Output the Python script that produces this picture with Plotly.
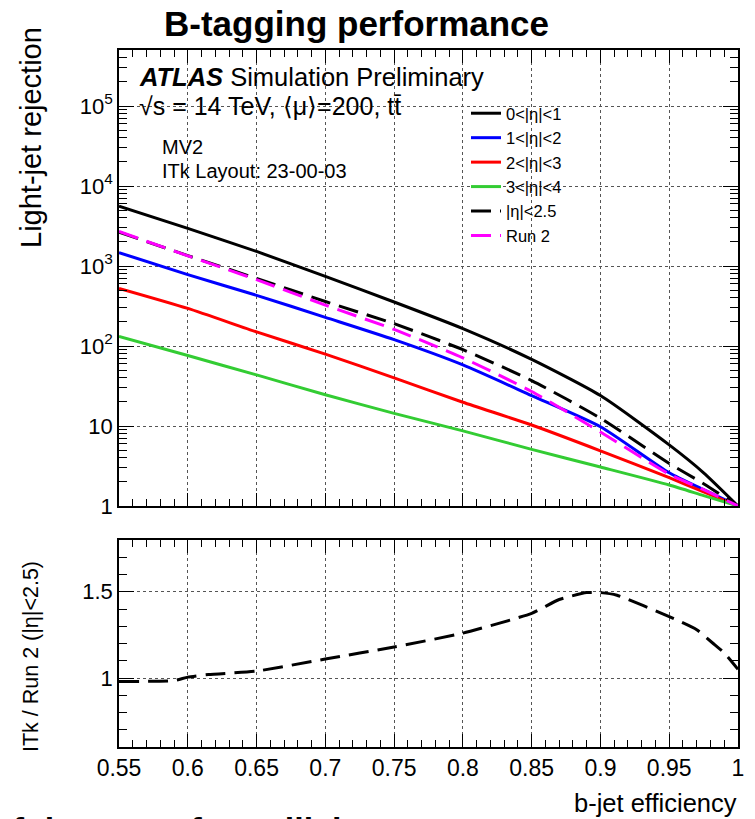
import plotly.graph_objects as go

# ---------------- data ----------------
eff = [0.55, 0.60, 0.65, 0.70, 0.75, 0.80, 0.85, 0.90, 0.95, 0.975, 1.00]
rej_eta01 = [5600, 2950, 1520, 740, 355, 165, 68, 24, 5.8, 2.6, 1]
rej_eta12 = [1470, 780, 430, 228, 120, 58, 24, 9.8, 2.6, 1.6, 1]
rej_eta23 = [525, 295, 150, 79, 40, 19.8, 10.3, 4.9, 2.26, 1.5, 1]
rej_eta34 = [132, 76, 43.5, 24.6, 14.4, 8.7, 5.1, 3.07, 1.83, 1.35, 1]
rej_itk25 = [2650, 1350, 700, 360, 190, 90, 37, 12.5, 3.4, 1.9, 1]
rej_run2 = [2700, 1340, 675, 325, 161, 71, 27, 8.4, 2.5, 1.6, 1]

ratio_eff = [0.55, 0.59, 0.60, 0.615, 0.65, 0.70, 0.75, 0.80, 0.85, 0.87,
             0.89, 0.90, 0.912, 0.95, 0.97, 0.982, 0.99, 1.00]
ratio_val = [0.98, 0.985, 1.005, 1.02, 1.04, 1.11, 1.18, 1.26, 1.375, 1.455,
             1.495, 1.495, 1.48, 1.356, 1.28, 1.20, 1.145, 1.05]

series_names = ["0<|η|<1", "1<|η|<2", "2<|η|<3", "3<|η|<4", "|η|<2.5", "Run 2"]
series_vals = [rej_eta01, rej_eta12, rej_eta23, rej_eta34, rej_itk25, rej_run2]
series_cols = ["#000000", "#0000ff", "#ff0000", "#33cc33", "#000000", "#ff00ff"]
series_dash = ["solid", "solid", "solid", "solid", "20px,9px", "20px,9px"]

x_ticks = [0.55, 0.6, 0.65, 0.7, 0.75, 0.8, 0.85, 0.9, 0.95, 1.0]
x_ticktext = ["0.55", "0.6", "0.65", "0.7", "0.75", "0.8", "0.85", "0.9", "0.95", "1"]
y_ticks = [1, 10, 100, 1000, 10000, 100000]
y_ticktext = ["1", "10", "10<sup>2</sup>", "10<sup>3</sup>", "10<sup>4</sup>", "10<sup>5</sup>"]
y_minor = [m * 10 ** k for k in range(0, 6) for m in range(2, 10)]
r_ticks = [1.0, 1.5]
r_ticktext = ["1", "1.5"]

FONT = "Liberation Sans, Arial, Helvetica, sans-serif"
W, H = 755, 819


def px(x):
    return x / W


def py(y):
    return 1 - y / H


fig = go.Figure()
for name, vals, col, dash in zip(series_names, series_vals, series_cols, series_dash):
    fig.add_trace(go.Scatter(
        x=eff, y=vals, mode="lines", name=name,
        line=dict(color=col, width=3, dash=dash, shape="spline", smoothing=0.6),
        xaxis="x", yaxis="y"))

fig.add_trace(go.Scatter(
    x=ratio_eff, y=ratio_val, mode="lines", showlegend=False,
    line=dict(color="#000000", width=3, dash="20px,9px", shape="spline", smoothing=0.5),
    xaxis="x2", yaxis="y2"))

xdom = [px(119), px(738)]
common_x = dict(
    range=[0.55, 1.0], tickmode="array", tickvals=x_ticks, ticktext=x_ticktext,
    ticks="inside", ticklen=13, tickwidth=1, tickcolor="black",
    minor=dict(ticks="inside", dtick=0.01, tick0=0.55, ticklen=7, tickcolor="black",
               showgrid=False),
    showline=True, linecolor="black", linewidth=1.5, mirror="allticks",
    showgrid=True, gridcolor="#555555", griddash="dot", gridwidth=1,
    zeroline=False, domain=xdom, fixedrange=True, automargin=False,
    tickfont=dict(family=FONT, size=23, color="black"),
)

fig.update_layout(
    width=W, height=H,
    margin=dict(l=0, r=0, t=0, b=0, pad=0),
    paper_bgcolor="white", plot_bgcolor="white",
    font=dict(family=FONT, color="black"),
    xaxis=dict(common_x, anchor="y", showticklabels=False),
    xaxis2=dict(common_x, anchor="y2", showticklabels=True),
    yaxis=dict(
        type="log", range=[0, 5.7], domain=[py(506), py(50)], anchor="x",
        tickmode="array", tickvals=y_ticks, ticktext=y_ticktext,
        ticks="inside", ticklen=15, tickcolor="black",
        minor=dict(ticks="inside", tickmode="array", tickvals=y_minor, ticklen=8,
                   tickcolor="black", showgrid=False),
        showline=True, linecolor="black", linewidth=1.5, mirror="allticks",
        showgrid=True, gridcolor="#555555", griddash="dot", gridwidth=1,
        zeroline=False, fixedrange=True, automargin=False,
        tickfont=dict(family=FONT, size=22, color="black"),
    ),
    yaxis2=dict(
        range=[0.6, 1.8], domain=[py(747), py(540)], anchor="x2",
        tickmode="array", tickvals=r_ticks, ticktext=r_ticktext,
        ticks="inside", ticklen=15, tickcolor="black",
        minor=dict(ticks="inside", dtick=0.1, tick0=0.6, ticklen=8,
                   tickcolor="black", showgrid=False),
        showline=True, linecolor="black", linewidth=1.5, mirror="allticks",
        showgrid=True, gridcolor="#555555", griddash="dot", gridwidth=1,
        zeroline=False, fixedrange=True, automargin=False,
        tickfont=dict(family=FONT, size=22, color="black"),
    ),
    legend=dict(
        x=px(466), y=py(96), xanchor="left", yanchor="top",
        bgcolor="rgba(0,0,0,0)", font=dict(family=FONT, size=16.5, color="black"),
        tracegroupgap=0, itemwidth=30,
    ),
    showlegend=True,
)

ann = []
ann.append(dict(text="<b>B-tagging performance</b>", x=px(356), y=py(23),
                font=dict(size=35, family=FONT), xanchor="center", yanchor="middle"))
ann.append(dict(text="<b><i>ATLAS</i></b> Simulation Preliminary", x=px(137), y=py(77),
                font=dict(size=25.5, family=FONT), xanchor="left", yanchor="middle"))
ann.append(dict(text="√s = 14 TeV, ⟨μ⟩=200, tt̄", x=px(137), y=py(106),
                font=dict(size=25, family=FONT), xanchor="left", yanchor="middle"))
ann.append(dict(text="MV2", x=px(160), y=py(147),
                font=dict(size=20, family=FONT), xanchor="left", yanchor="middle"))
ann.append(dict(text="ITk Layout: 23-00-03", x=px(160), y=py(171),
                font=dict(size=20, family=FONT), xanchor="left", yanchor="middle"))
ann.append(dict(text="Light-jet rejection", x=px(31), y=py(138), textangle=-90,
                font=dict(size=29, family=FONT), xanchor="center", yanchor="middle"))
ann.append(dict(text="ITk / Run 2 (|η|<2.5)", x=px(31), y=py(657), textangle=-90,
                font=dict(size=21.5, family=FONT), xanchor="center", yanchor="middle"))
ann.append(dict(text="b-jet efficiency", x=px(739), y=py(803),
                font=dict(size=25.5, family=FONT), xanchor="right", yanchor="middle"))
ann.append(dict(text="<b>of the same for collisions</b>", x=px(-10), y=py(829),
                font=dict(size=34, family=FONT), xanchor="left", yanchor="middle"))
for a in ann:
    a.update(xref="paper", yref="paper", showarrow=False)
fig.update_layout(annotations=ann)

fig.write_html("out.html")
